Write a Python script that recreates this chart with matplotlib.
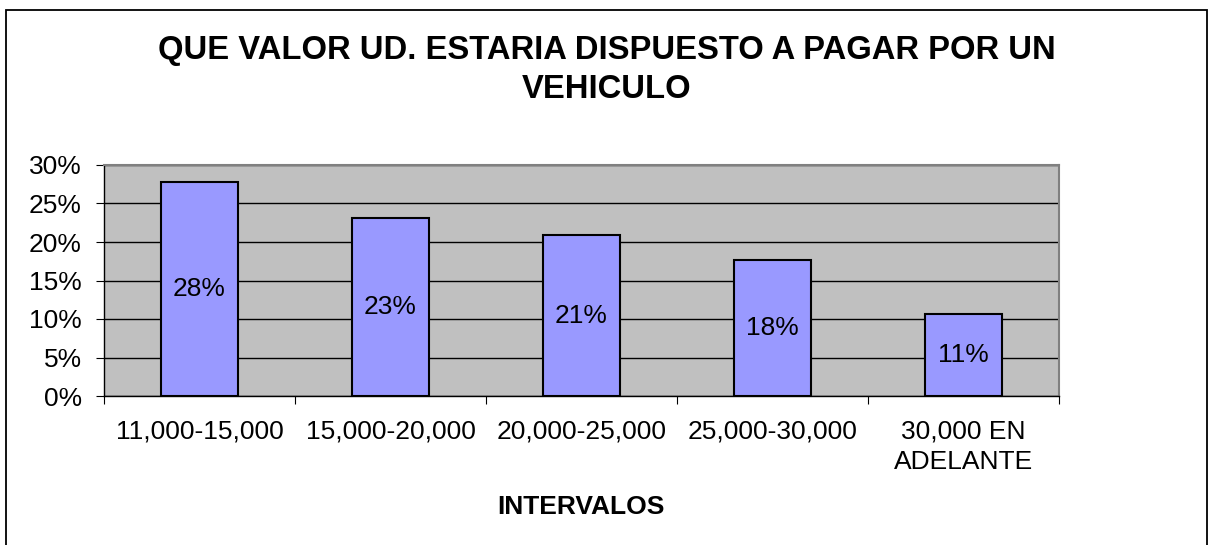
import matplotlib.pyplot as plt
from matplotlib.patches import Rectangle
from matplotlib.ticker import PercentFormatter

# datos
intervalos = ['11,000-15,000', '15,000-20,000', '20,000-25,000',
              '25,000-30,000', '30,000 EN\nADELANTE']
valores = [27.8, 23.1, 20.9, 17.6, 10.6]
etiquetas = ['28%', '23%', '21%', '18%', '11%']

plt.rcParams['font.family'] = ['Liberation Sans', 'DejaVu Sans']

fig = plt.figure(figsize=(12.11, 5.45), dpi=100)
ax = fig.add_axes([104 / 1211, 1 - 396 / 545, 955 / 1211, 231 / 545])

# marco exterior del grafico
fig.patches.append(Rectangle((6 / 1211, -0.05), 1201 / 1211, 1.05 - 10 / 545,
                             transform=fig.transFigure, fill=False,
                             edgecolor='black', linewidth=1.3))

ax.set_facecolor('#C0C0C0')
x = range(len(intervalos))
bars = ax.bar(x, valores, width=0.4, color='#9999FF', edgecolor='black',
              linewidth=1.5, zorder=3)

for b, lab in zip(bars, etiquetas):
    ax.text(b.get_x() + b.get_width() / 2, b.get_height() / 2, lab,
            ha='center', va='center', fontsize=19, zorder=4)

ax.set_xlim(-0.5, len(intervalos) - 0.5)
ax.set_ylim(0, 30)
ax.set_yticks(range(0, 31, 5))
ax.yaxis.set_major_formatter(PercentFormatter(decimals=0))
ax.yaxis.grid(True, color='black', linewidth=1.0, zorder=1)

ax.set_xticks([i + 0.5 for i in range(-1, len(intervalos))])
ax.set_xticklabels([])
ax.set_xticks(list(x), minor=True)
ax.set_xticklabels(intervalos, minor=True, fontsize=19, linespacing=1.35)
ax.tick_params(axis='x', which='minor', length=0, pad=17)
ax.tick_params(axis='x', which='major', length=6, direction='out')
ax.tick_params(axis='y', length=6, direction='out', labelsize=19, pad=10)

for s in ['top', 'right']:
    ax.spines[s].set_color('#808080')
    ax.spines[s].set_linewidth(1.5)
for s in ['left', 'bottom']:
    ax.spines[s].set_color('black')
    ax.spines[s].set_linewidth(1.0)

fig.text(0.501, 1 - 70 / 545, 'QUE VALOR UD. ESTARIA DISPUESTO A PAGAR POR UN\nVEHICULO',
         ha='center', va='center', fontsize=23.6, fontweight='bold',
         linespacing=1.35)
fig.text(0.48, 1 - 507 / 545, 'INTERVALOS', ha='center', va='center',
         fontsize=19, fontweight='bold')

fig.savefig('out.png', dpi=100)
